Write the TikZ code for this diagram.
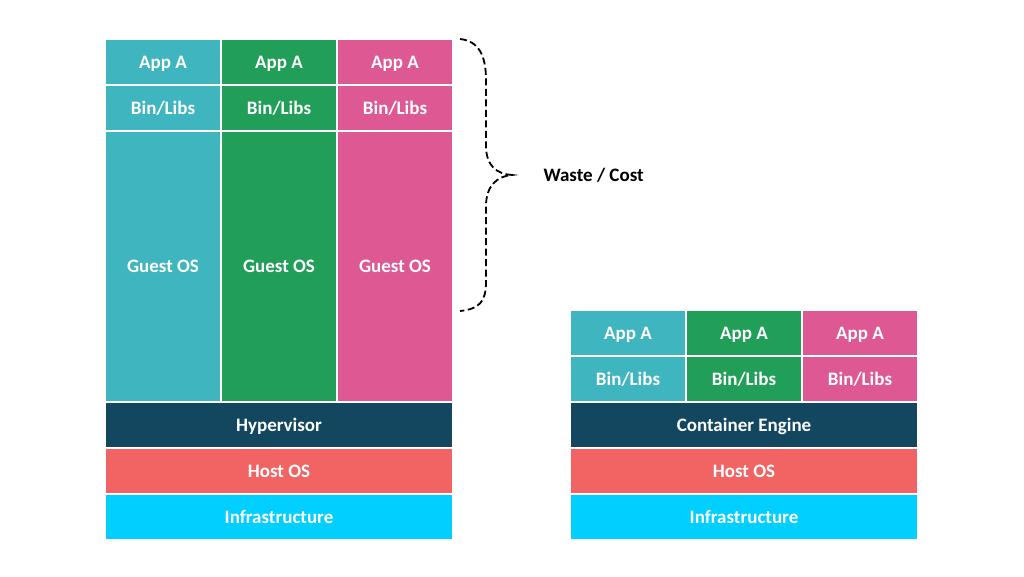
\documentclass[tikz,border=0pt]{standalone}
\usepackage{fontspec}
\setmainfont{Carlito}
\definecolor{tealc}{RGB}{62,181,191}
\definecolor{greenc}{RGB}{33,159,88}
\definecolor{pinkc}{RGB}{222,88,148}
\definecolor{navyc}{RGB}{18,71,95}
\definecolor{coralc}{RGB}{242,99,99}
\definecolor{cyanc}{RGB}{0,207,255}
\begin{document}
\begin{tikzpicture}[x=1pt, y=-1pt,
    block/.style={shape=rectangle, align=center, inner sep=0pt, outer sep=0pt, text=white,
                  font=\fontsize{19}{22}\selectfont\bfseries, text height=12.5pt, text depth=0pt,
                  minimum width=114pt, minimum height=44pt},
    wide/.style={block, minimum width=346pt}]
\useasboundingbox (0,0) rectangle (1024,576);

% virtual machines
\node[block, fill=tealc] (va1) at (163,62) {App A};
\node[block, fill=greenc] (va2) at (279,62) {App A};
\node[block, fill=pinkc] (va3) at (395,62) {App A};
\node[block, fill=tealc] (vb1) at (163,108) {Bin/Libs};
\node[block, fill=greenc] (vb2) at (279,108) {Bin/Libs};
\node[block, fill=pinkc] (vb3) at (395,108) {Bin/Libs};
\node[block, fill=tealc, minimum height=269pt] (vg1) at (163,266.5) {Guest OS};
\node[block, fill=greenc, minimum height=269pt] (vg2) at (279,266.5) {Guest OS};
\node[block, fill=pinkc, minimum height=269pt] (vg3) at (395,266.5) {Guest OS};
\node[wide, fill=navyc] (hv) at (279,425) {Hypervisor};
\node[wide, fill=coralc] (vho) at (279,471) {Host OS};
\node[wide, fill=cyanc] (vin) at (279,517) {Infrastructure};

% containers
\node[block, fill=tealc] (ca1) at (628,333) {App A};
\node[block, fill=greenc] (ca2) at (744,333) {App A};
\node[block, fill=pinkc] (ca3) at (860,333) {App A};
\node[block, fill=tealc] (cb1) at (628,379) {Bin/Libs};
\node[block, fill=greenc] (cb2) at (744,379) {Bin/Libs};
\node[block, fill=pinkc] (cb3) at (860,379) {Bin/Libs};
\node[wide, fill=navyc] (ce) at (744,425) {Container Engine};
\node[wide, fill=coralc] (cho) at (744,471) {Host OS};
\node[wide, fill=cyanc] (cin) at (744,517) {Infrastructure};

% brace
\coordinate (bt) at (460,39);
\coordinate (bm) at (512,175);
\coordinate (bb) at (460,311);
\node[font=\fontsize{19}{22}\selectfont\bfseries, text height=12.5pt, text depth=0pt, anchor=west] (wc) at (540,175) {Waste / Cost};
\draw[line width=1.8pt, dash pattern=on 7pt off 3.5pt]
  (bt) .. controls (479,41) and (486,56) .. (486,80) -- (486,146)
  .. controls (486,166) and (497,174) .. (bm)
  .. controls (497,176) and (486,186) .. (486,206) -- (486,282)
  .. controls (486,302) and (479,309) .. (bb);

\end{tikzpicture}
\end{document}
